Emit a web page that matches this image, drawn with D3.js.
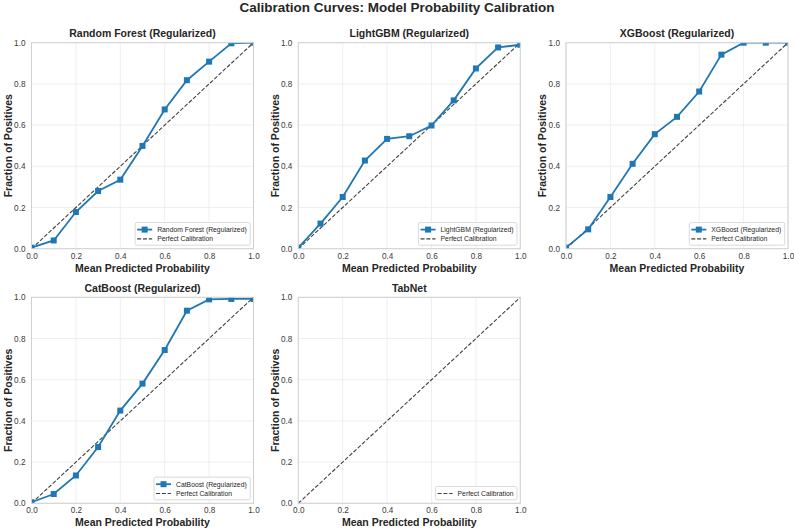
<!DOCTYPE html>
<html><head><meta charset="utf-8">
<script src="https://cdn.jsdelivr.net/npm/d3@7"></script>
<style>
body{margin:0;background:#fff;}
svg{display:block;font-family:"Liberation Sans",Arial,sans-serif;}
</style></head>
<body><svg id="chart" width="794" height="530"></svg>
<script>
const binCenters = [0.0, 0.1, 0.2, 0.3, 0.4, 0.5, 0.6, 0.7, 0.8, 0.9, 1.0];
const modelNames = ["Random Forest (Regularized)", "LightGBM (Regularized)", "XGBoost (Regularized)", "CatBoost (Regularized)", "TabNet"];
const rfValues  = [0.005, 0.04, 0.178, 0.28, 0.335, 0.499, 0.676, 0.818, 0.908, 0.997, 1.0];
const lgbValues = [0.005, 0.122, 0.251, 0.428, 0.533, 0.546, 0.598, 0.72, 0.875, 0.977, 0.99];
const xgbValues = [0.005, 0.094, 0.251, 0.412, 0.556, 0.64, 0.763, 0.942, 1.0, 1.0, 1.0];
const cbValues  = [0.005, 0.045, 0.135, 0.273, 0.45, 0.581, 0.744, 0.935, 0.99, 0.992, 0.992];
const tabnetValues = null;
const seriesValues = [rfValues, lgbValues, xgbValues, cbValues, tabnetValues];
const tickValues = [0, 0.2, 0.4, 0.6, 0.8, 1.0];
const perfectLine = [0, 1];
const chartTitle = "Calibration Curves: Model Probability Calibration";
const xLabel = "Mean Predicted Probability";
const yLabel = "Fraction of Positives";
const perfectLabel = "Perfect Calibration";

const svg = d3.select("#chart");
const colX = [31.5, 298.3, 566];
const rowY = [42.7, 297.3];
const W = 222, H = 206;
const blue = "#1f77b4";
const dash = "4,1.8";

svg.append("text").attr("x", 397).attr("y", 11.5).attr("text-anchor", "middle")
  .attr("font-size", 13.5).attr("font-weight", "bold").attr("fill", "#262626").text(chartTitle);

modelNames.forEach((name, i) => {
  const col = i % 3, row = Math.floor(i / 3);
  const g = svg.append("g").attr("transform", `translate(${colX[col]},${rowY[row]})`);
  const x = d3.scaleLinear().domain([0, 1]).range([0, W]);
  const y = d3.scaleLinear().domain([0, 1]).range([H, 0]);
  const clipId = "clip" + i;
  g.append("clipPath").attr("id", clipId).append("rect").attr("width", W).attr("height", H);

  // grid
  g.append("g").selectAll("line").data(tickValues).join("line")
    .attr("x1", d => x(d)).attr("x2", d => x(d)).attr("y1", 0).attr("y2", H)
    .attr("stroke", "#ebebeb").attr("stroke-width", 0.8);
  g.append("g").selectAll("line").data(tickValues).join("line")
    .attr("y1", d => y(d)).attr("y2", d => y(d)).attr("x1", 0).attr("x2", W)
    .attr("stroke", "#ebebeb").attr("stroke-width", 0.8);

  // axes
  const xa = g.append("g").attr("transform", `translate(0,${H})`)
    .call(d3.axisBottom(x).tickValues(tickValues).tickFormat(d3.format(".1f")).tickSize(0).tickPadding(4));
  const ya = g.append("g")
    .call(d3.axisLeft(y).tickValues(tickValues).tickFormat(d3.format(".1f")).tickSize(0).tickPadding(6));
  [xa, ya].forEach(a => {
    a.select(".domain").remove();
    a.selectAll("text").attr("font-size", 8.2).attr("fill", "#3a3a3a").attr("font-family", "Liberation Sans, Arial, sans-serif");
  });

  const plot = g.append("g").attr("clip-path", `url(#${clipId})`);
  // perfect calibration
  plot.append("line").attr("x1", x(perfectLine[0])).attr("y1", y(perfectLine[0]))
    .attr("x2", x(perfectLine[1])).attr("y2", y(perfectLine[1]))
    .attr("stroke", "#000").attr("stroke-opacity", 0.75).attr("stroke-width", 1.1)
    .attr("stroke-dasharray", dash);

  const vals = seriesValues[i];
  if (vals) {
    const pts = binCenters.map((b, k) => [b, vals[k]]);
    plot.append("path").datum(pts)
      .attr("d", d3.line().x(d => x(d[0])).y(d => y(d[1])))
      .attr("fill", "none").attr("stroke", blue).attr("stroke-width", 1.8);
    plot.selectAll("rect.m").data(pts).join("rect").attr("class", "m")
      .attr("x", d => x(d[0]) - 3).attr("y", d => y(d[1]) - 3)
      .attr("width", 6).attr("height", 6).attr("fill", blue);
  }

  // frame
  g.append("rect").attr("width", W).attr("height", H).attr("fill", "none")
    .attr("stroke", "#d0d0d0").attr("stroke-width", 1);

  // titles
  g.append("text").attr("x", W / 2).attr("y", -5.3).attr("text-anchor", "middle")
    .attr("font-size", 10.5).attr("font-weight", "bold").attr("fill", "#262626").text(name);
  g.append("text").attr("x", W / 2).attr("y", H + 23).attr("text-anchor", "middle")
    .attr("font-size", 10.5).attr("font-weight", "bold").attr("fill", "#262626").text(xLabel);
  g.append("text").attr("transform", `translate(${12 - colX[col] + (col * 267.2)},${H / 2}) rotate(-90)`)
    .attr("text-anchor", "middle")
    .attr("font-size", 10.5).attr("font-weight", "bold").attr("fill", "#262626").text(yLabel);

  // legend
  const entries = vals ? [{label: name, type: "series"}, {label: perfectLabel, type: "dash"}] : [{label: perfectLabel, type: "dash"}];
  const lg = g.append("g");
  const rowH = 9.3;
  const texts = [];
  entries.forEach((e, k) => {
    const t = lg.append("text").attr("x", 22).attr("y", 7 + k * rowH + 2.4)
      .attr("font-size", 6.8).attr("fill", "#262626").text(e.label);
    texts.push(t);
    const cy = 7 + k * rowH;
    if (e.type === "series") {
      lg.append("line").attr("x1", 2).attr("x2", 17).attr("y1", cy).attr("y2", cy)
        .attr("stroke", blue).attr("stroke-width", 1.8);
      lg.append("rect").attr("x", 9.5 - 3).attr("y", cy - 3).attr("width", 6).attr("height", 6).attr("fill", blue);
    } else {
      lg.append("line").attr("x1", 2).attr("x2", 17).attr("y1", cy).attr("y2", cy)
        .attr("stroke", "#000").attr("stroke-opacity", 0.75).attr("stroke-width", 1.1)
        .attr("stroke-dasharray", dash);
    }
  });
  const tw = d3.max(texts, t => t.node().getComputedTextLength());
  const lw = 22 + tw + 3.5;
  const lh = 2.5 + entries.length * rowH + 1.5;
  lg.insert("rect", ":first-child").attr("x", 0).attr("y", 0).attr("width", lw).attr("height", lh)
    .attr("rx", 1.5).attr("fill", "#fff").attr("fill-opacity", 0.8).attr("stroke", "#d0d0d0").attr("stroke-width", 0.8);
  lg.attr("transform", `translate(${W - 3.3 - lw},${H - 3.5 - lh})`);
});
</script></body></html>
